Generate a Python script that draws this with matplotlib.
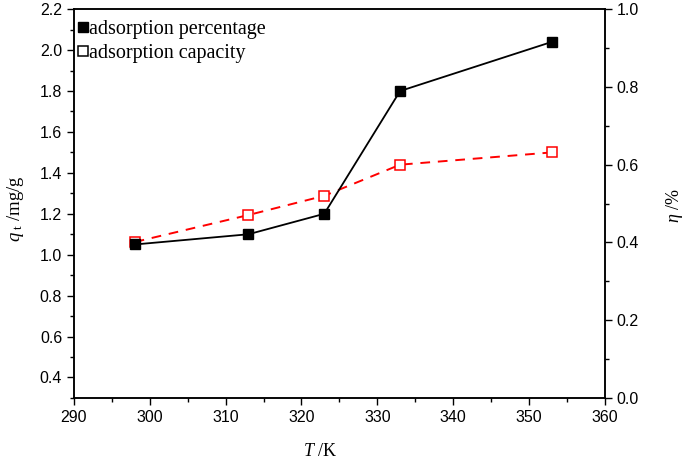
import matplotlib
matplotlib.use("Agg")
import matplotlib.pyplot as plt
from matplotlib.lines import Line2D
from matplotlib.ticker import MultipleLocator

T = [298, 313, 323, 333, 353]
percentage = [1.05, 1.10, 1.20, 1.80, 2.04]
capacity = [1.062, 1.194, 1.288, 1.44, 1.50]
legend_labels = ["adsorption percentage", "adsorption capacity"]

plt.rcParams["mathtext.fontset"] = "custom"
plt.rcParams["mathtext.it"] = "Liberation Serif:italic"
plt.rcParams["mathtext.rm"] = "Liberation Serif"

fig = plt.figure(figsize=(6.85, 4.59), dpi=100)
ax = fig.add_axes([0.108, 0.133, 0.775, 0.847])

ax.plot(T, capacity, color="red", ls=(0, (5, 4)), lw=1.4, marker="s",
        ms=7, mfc="white", mec="red", mew=1.1, zorder=3)
ax.plot(T, percentage, color="black", lw=1.3, marker="s", ms=7.5,
        mfc="black", mec="black", zorder=4)

ax.set_xlim(290, 360)
ax.set_ylim(0.3, 2.2)
ax.xaxis.set_major_locator(MultipleLocator(10))
ax.xaxis.set_minor_locator(MultipleLocator(5))
ax.yaxis.set_minor_locator(MultipleLocator(0.1))
ax.set_yticks([0.4, 0.6, 0.8, 1.0, 1.2, 1.4, 1.6, 1.8, 2.0, 2.2])
ax.yaxis.set_major_formatter(plt.FormatStrFormatter("%.1f"))

ax2 = ax.twinx()
ax2.set_ylim(0.0, 1.0)
ax2.yaxis.set_major_locator(MultipleLocator(0.2))
ax2.yaxis.set_minor_locator(MultipleLocator(0.1))
ax2.yaxis.set_major_formatter(plt.FormatStrFormatter("%.1f"))

tickfont = "Liberation Sans"
for a in (ax, ax2):
    a.tick_params(which="major", direction="out", length=5, width=1.0,
                  labelsize=11.5)
    a.tick_params(which="minor", direction="out", length=3, width=1.0)
    for lab in a.get_xticklabels() + a.get_yticklabels():
        lab.set_fontfamily(tickfont)
    for s in a.spines.values():
        s.set_linewidth(1.1)
ax.tick_params(top=False, right=False, which="both")
ax2.tick_params(left=False, which="both")

serif = "Liberation Serif"
fig.text(0.022, 0.545, r"$\mathit{q}_{\rm\ t}$ /mg/g", rotation=90,
         ha="center", va="center", fontsize=13.5, family=serif)
fig.text(0.985, 0.553, r"$\mathit{\eta}$ /%", rotation=90,
         ha="center", va="center", fontsize=13, family=serif)
fig.text(0.467, 0.017, r"$\mathit{T}$ /K", ha="center", va="center",
         fontsize=13, family=serif)

handles = [
    Line2D([], [], ls="none", marker="s", ms=7.5, mfc="black", mec="black"),
    Line2D([], [], ls="none", marker="s", ms=7.5, mfc="white", mec="black", mew=1.1),
]
leg = ax.legend(handles, legend_labels, loc="upper left", frameon=False,
                bbox_to_anchor=(-0.015, 1.003),
                prop={"family": serif, "size": 14.5}, handlelength=0.5,
                handletextpad=0.05, borderaxespad=0.2, labelspacing=0.25,
                borderpad=0.4)

fig.savefig("out.png", dpi=100)
